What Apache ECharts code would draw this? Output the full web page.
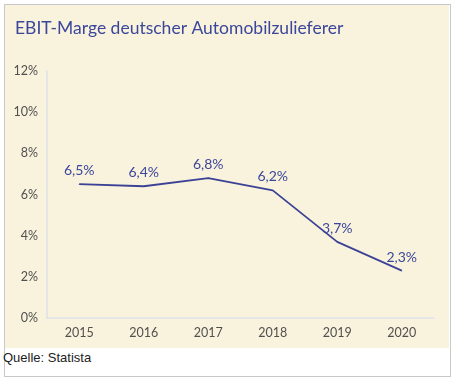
<!DOCTYPE html>
<html><head><meta charset="utf-8">
<script src="https://cdn.jsdelivr.net/npm/echarts@6/dist/echarts.min.js"></script>
<style>
body{margin:0;background:#fff;}
#frame{position:absolute;left:4px;top:4px;width:445px;height:371px;border:1px solid #c8c8c8;background:#fff;}
#chart{position:absolute;left:5px;top:5px;width:444px;height:343px;background:#f9f2dc;}
#src{position:absolute;left:3px;top:349px;font-family:"Liberation Sans",Arial,sans-serif;font-size:13px;color:#222;line-height:18px;}
</style></head>
<body>
<div id="frame"></div>
<div id="chart"></div>
<div id="src">Quelle: Statista</div>
<script>
var categories = ['2015','2016','2017','2018','2019','2020'];
var values = [6.5, 6.4, 6.8, 6.2, 3.7, 2.3];
var yTicks = [0, 2, 4, 6, 8, 10, 12];
var chart = echarts.init(document.getElementById('chart'));
chart.setOption({
  backgroundColor: 'transparent',
  animation: false,
  title: {text: 'EBIT-Marge deutscher Automobilzulieferer', left: 5, top: 9,
    textStyle: {fontFamily: 'Lato', fontSize: 17.5, fontWeight: 'normal', color: '#3b479b'}},
  grid: {left: 42, right: 15, top: 66, bottom: 30},
  xAxis: {type: 'category', data: categories, boundaryGap: true,
    axisLine: {lineStyle: {color: '#dde2e8', width: 1.5}}, axisTick: {show: false},
    axisLabel: {color: '#505050', fontFamily: 'Lato', fontSize: 12.5, margin: 8}},
  yAxis: {type: 'value', min: yTicks[0], max: yTicks[yTicks.length-1], interval: 2,
    axisLine: {show: true, lineStyle: {color: '#dde2e8', width: 1.5}}, axisTick: {show: false},
    splitLine: {show: false},
    axisLabel: {color: '#505050', fontFamily: 'Lato', fontSize: 12.5, margin: 9, formatter: function(v){return v+'%';}}},
  series: [{type: 'line', data: values, symbol: 'circle', symbolSize: 1, showSymbol: true,
    itemStyle: {color: '#3b4296'},
    lineStyle: {color: '#3b4296', width: 1.8},
    label: {show: true, position: 'top', distance: 6, color: '#3b479b', fontFamily: 'Lato', fontSize: 14,
      formatter: function(p){return String(p.value).replace('.', ',') + '%';}}}]
});
</script>
</body></html>
